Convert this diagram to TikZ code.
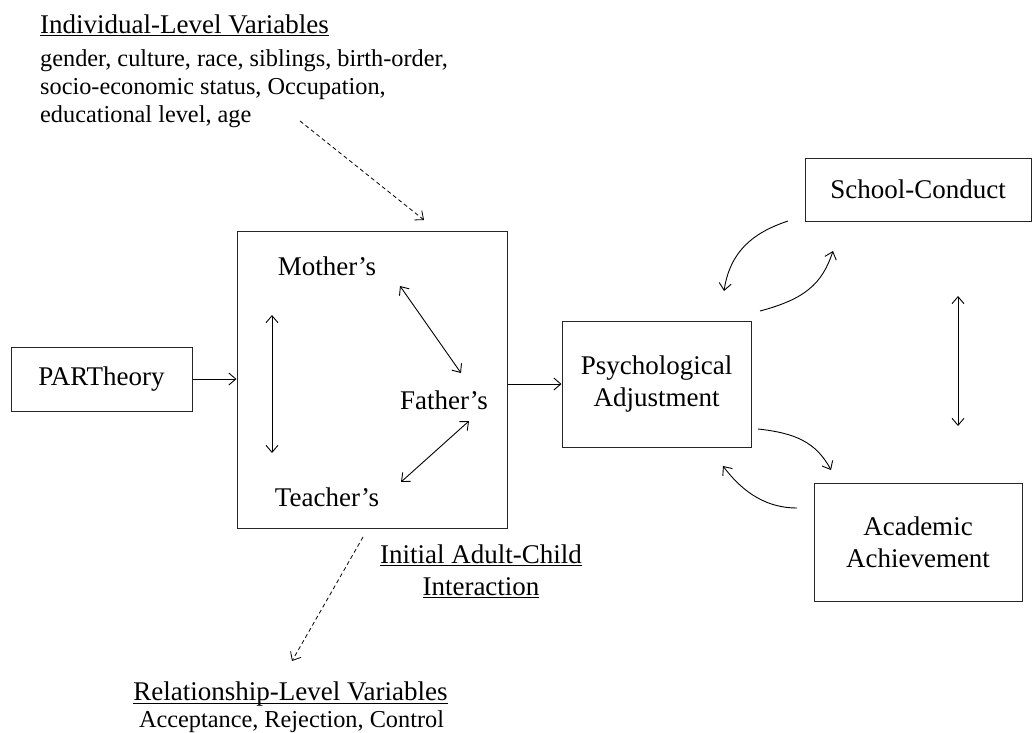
\documentclass[tikz,border=0pt]{standalone}
\usepackage{fontspec}
\setmainfont{Liberation Serif}
\usetikzlibrary{arrows.meta}
\tikzset{
  box/.style={draw=black!85, line width=1pt, inner sep=0pt},
  big/.style={font=\fontsize{27}{32}\selectfont},
  small/.style={font=\fontsize{24.3}{28}\selectfont},
  txt/.style={inner sep=0pt},
  uline/.style={line width=1.1pt},
  conn/.style={line width=0.9pt, -{Straight Barb[length=7pt,width=12pt]}},
  dconn/.style={line width=0.8pt, dashed, dash pattern=on 4pt off 3pt, -{Straight Barb[length=7pt,width=12pt]}},
  bconn/.style={line width=0.9pt, {Straight Barb[length=7pt,width=12pt]}-{Straight Barb[length=7pt,width=12pt]}},
}
\begin{document}
\begin{tikzpicture}[x=1pt,y=-1pt]
\useasboundingbox (0,0) rectangle (1034,732);
% boxes
\node[box, minimum width=181pt, minimum height=64pt, big] (par) at (101.5,379) {PARTheory};
\node[box, minimum width=270pt, minimum height=297pt] (main) at (372,379.5) {};
\node[box, minimum width=189pt, minimum height=126pt, big, align=center] (psy) at (656.5,384) {Psychological\\Adjustment};
\node[box, minimum width=226pt, minimum height=63pt, big] (sc) at (918,189.5) {School-Conduct};
\node[box, minimum width=208pt, minimum height=118pt, big, align=center] (aa) at (918,542) {Academic\\Achievement};
% inner labels
\node[big] (mo) at (327,266) {Mother’s};
\node[big] (fa) at (444,400) {Father’s};
\node[big] (te) at (327,497) {Teacher’s};
% top text block
\node[txt, big, anchor=base west] (indH) at (40,33) {\underline{Individual-Level Variables}};
\node[txt, small, anchor=base west] (ind1) at (40,66) {gender, culture, race, siblings, birth-order,};
\node[txt, small, anchor=base west] (ind2) at (40,94) {socio-economic status, Occupation,};
\node[txt, small, anchor=base west] (ind3) at (40,122) {educational level, age};
% interaction label
\node[big, align=center, inner sep=0pt] (init) at (481,571) {\underline{Initial Adult-Child}\\\underline{Interaction}};
% bottom text block
\node[txt, big, anchor=base] (relH) at (290.5,700) {Relationship-Level Variables};
\draw[uline] ([yshift=-3.5pt]relH.base west) -- ([yshift=-3.5pt]relH.base east);
\node[txt, small, anchor=base] (rel1) at (291.5,727) {Acceptance, Rejection, Control};
% coordinates for free ends
\coordinate (lvA) at (272,315);
\coordinate (lvB) at (272,453);
\coordinate (mfA) at (400,286);
\coordinate (mfB) at (461,373);
\coordinate (ftA) at (469,421);
\coordinate (ftB) at (401,482);
\coordinate (rvA) at (958,296);
\coordinate (rvB) at (958,426);
\coordinate (d1A) at (300,121);
\coordinate (d1B) at (424,220);
\coordinate (d2A) at (363,537);
\coordinate (d2B) at (292,661);
\coordinate (c1A) at (788,221);
\coordinate (c1B) at (724,291);
\coordinate (c2A) at (760,311);
\coordinate (c2B) at (833,251);
\coordinate (c3A) at (758,429);
\coordinate (c3B) at (831,470);
\coordinate (c4A) at (797,508);
\coordinate (c4B) at (723,466);
% connectors
\draw[conn] (par.east) -- (main.west |- par.east);
\draw[conn] (main.east |- psy.west) -- (psy.west);
\draw[bconn] (lvA) -- (lvB);
\draw[bconn] (mfA) -- (mfB);
\draw[bconn] (ftA) -- (ftB);
\draw[bconn] (rvA) -- (rvB);
\draw[dconn] (d1A) -- (d1B);
\draw[dconn] (d2A) -- (d2B);
\draw[conn] (c1A) .. controls (752,233) and (730,252) .. (c1B);
\draw[conn] (c2A) .. controls (805,299) and (822,284) .. (c2B);
\draw[conn] (c3A) .. controls (795,433) and (816,442) .. (c3B);
\draw[conn] (c4A) .. controls (768,508) and (744,494) .. (c4B);
\end{tikzpicture}
\end{document}
